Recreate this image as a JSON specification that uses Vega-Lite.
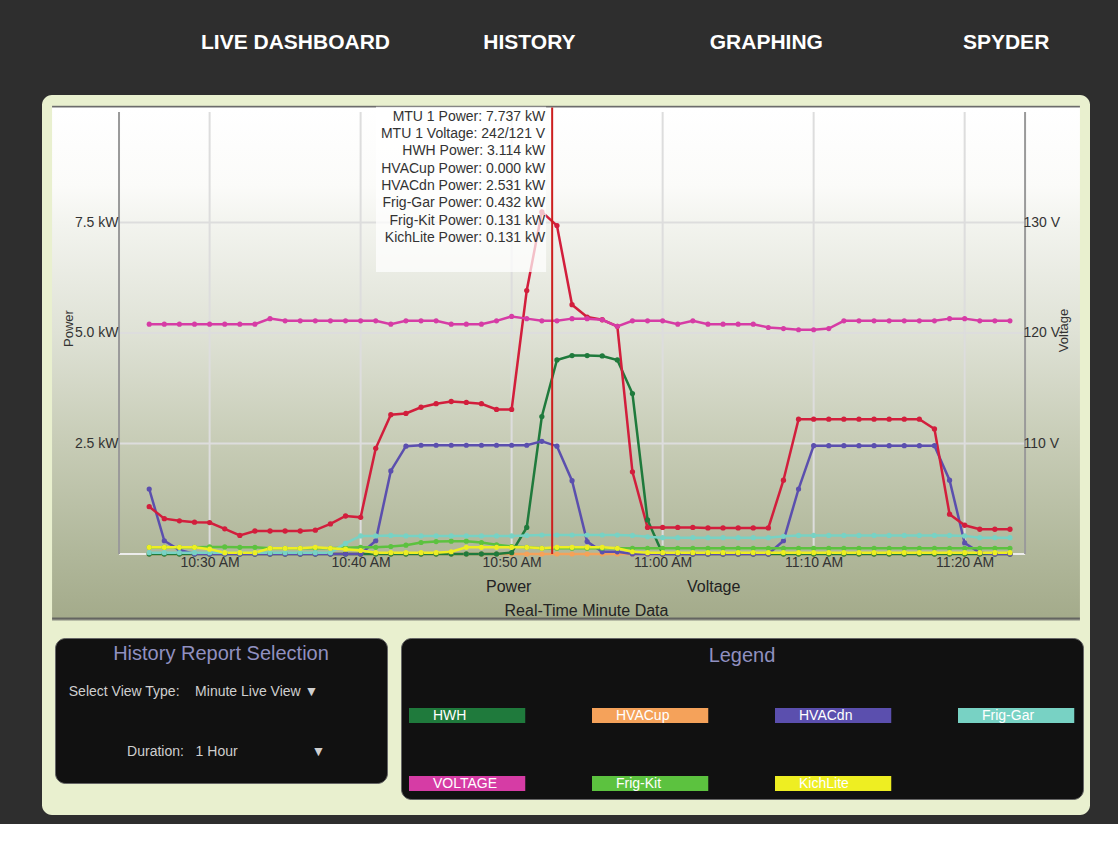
{
  "$schema": "https://vega.github.io/schema/vega-lite/v6.json",
  "width": 1048,
  "height": 535,
  "autosize": {"type": "none"},
  "padding": {"left": 42, "top": 95, "right": 28, "bottom": 194},
  "background": "#2e2e2e",
  "title": {
    "text": "LIVE DASHBOARD\u00a0\u00a0\u00a0\u00a0\u00a0\u00a0\u00a0\u00a0\u00a0\u00a0\u00a0\u00a0\u00a0\u00a0\u00a0\u00a0HISTORY\u00a0\u00a0\u00a0\u00a0\u00a0\u00a0\u00a0\u00a0\u00a0\u00a0\u00a0\u00a0\u00a0\u00a0\u00a0\u00a0\u00a0\u00a0\u00a0\u00a0\u00a0\u00a0\u00a0GRAPHING\u00a0\u00a0\u00a0\u00a0\u00a0\u00a0\u00a0\u00a0\u00a0\u00a0\u00a0\u00a0\u00a0\u00a0\u00a0\u00a0\u00a0\u00a0\u00a0\u00a0\u00a0\u00a0\u00a0\u00a0SPYDER",
    "anchor": "start", "frame": "group", "orient": "top", "dx": 159, "offset": 31,
    "baseline": "middle", "font": "Liberation Sans", "fontSize": 21, "fontWeight": "bold", "color": "#ffffff"
  },
  "config": {
    "font": "Liberation Sans",
    "view": {"stroke": null}
  },
  "resolve": {"scale": {"y": "independent"}, "axis": {"x": "independent"}},
  "datasets": {
    "one": [{"k": 1}],
    "hgrid": [{"v": 2.5}, {"v": 5}, {"v": 7.5}],
    "vgrid": [{"t": "2014-01-01T10:30"}, {"t": "2014-01-01T10:40"}, {"t": "2014-01-01T10:50"}, {"t": "2014-01-01T11:00"}, {"t": "2014-01-01T11:10"}, {"t": "2014-01-01T11:20"}],
    "cursor": [{"t": "2014-01-01T10:52:41", "lines": ["MTU 1 Power: 7.737 kW", "MTU 1 Voltage: 242/121 V", "HWH Power: 3.114 kW", "HVACup Power: 0.000 kW", "HVACdn Power: 2.531 kW", "Frig-Gar Power: 0.432 kW", "Frig-Kit Power: 0.131 kW", "KichLite Power: 0.131 kW"]}],
    "hist": [
      {"setting": "\u200b\u00a0\u00a0Select View Type:\u00a0\u00a0\u00a0\u00a0Minute Live View\u00a0\u25bc\u00a0\u00a0\u00a0\u00a0\u00a0\u00a0\u00a0\u00a0\u00a0\u00a0\u00a0\u00a0\u00a0\u00a0\u00a0\u00a0\u200b"},
      {"setting": "\u200b\u00a0\u00a0\u00a0\u00a0\u00a0\u00a0\u00a0\u00a0\u00a0\u00a0\u00a0\u00a0\u00a0\u00a0\u00a0\u00a0\u00a0Duration:\u00a0\u00a0\u00a01 Hour\u00a0\u00a0\u00a0\u00a0\u00a0\u00a0\u00a0\u00a0\u00a0\u00a0\u00a0\u00a0\u00a0\u00a0\u00a0\u00a0\u00a0\u00a0\u00a0\u25bc"}
    ],
    "volt": [
      {"t":"2014-01-01T10:26","s":"VOLTAGE","v":120.8},{"t":"2014-01-01T10:27","s":"VOLTAGE","v":120.8},{"t":"2014-01-01T10:28","s":"VOLTAGE","v":120.8},{"t":"2014-01-01T10:29","s":"VOLTAGE","v":120.8},
      {"t":"2014-01-01T10:30","s":"VOLTAGE","v":120.8},{"t":"2014-01-01T10:31","s":"VOLTAGE","v":120.8},{"t":"2014-01-01T10:32","s":"VOLTAGE","v":120.8},{"t":"2014-01-01T10:33","s":"VOLTAGE","v":120.8},
      {"t":"2014-01-01T10:34","s":"VOLTAGE","v":121.3},{"t":"2014-01-01T10:35","s":"VOLTAGE","v":121.1},{"t":"2014-01-01T10:36","s":"VOLTAGE","v":121.1},{"t":"2014-01-01T10:37","s":"VOLTAGE","v":121.1},
      {"t":"2014-01-01T10:38","s":"VOLTAGE","v":121.1},{"t":"2014-01-01T10:39","s":"VOLTAGE","v":121.1},{"t":"2014-01-01T10:40","s":"VOLTAGE","v":121.1},{"t":"2014-01-01T10:41","s":"VOLTAGE","v":121.1},
      {"t":"2014-01-01T10:42","s":"VOLTAGE","v":120.8},{"t":"2014-01-01T10:43","s":"VOLTAGE","v":121.1},{"t":"2014-01-01T10:44","s":"VOLTAGE","v":121.1},{"t":"2014-01-01T10:45","s":"VOLTAGE","v":121.1},
      {"t":"2014-01-01T10:46","s":"VOLTAGE","v":120.8},{"t":"2014-01-01T10:47","s":"VOLTAGE","v":120.8},{"t":"2014-01-01T10:48","s":"VOLTAGE","v":120.8},{"t":"2014-01-01T10:49","s":"VOLTAGE","v":121.1},
      {"t":"2014-01-01T10:50","s":"VOLTAGE","v":121.5},{"t":"2014-01-01T10:51","s":"VOLTAGE","v":121.3},{"t":"2014-01-01T10:52","s":"VOLTAGE","v":121.1},{"t":"2014-01-01T10:53","s":"VOLTAGE","v":121.1},
      {"t":"2014-01-01T10:54","s":"VOLTAGE","v":121.3},{"t":"2014-01-01T10:55","s":"VOLTAGE","v":121.3},{"t":"2014-01-01T10:56","s":"VOLTAGE","v":121.2},{"t":"2014-01-01T10:57","s":"VOLTAGE","v":120.6},
      {"t":"2014-01-01T10:58","s":"VOLTAGE","v":121.1},{"t":"2014-01-01T10:59","s":"VOLTAGE","v":121.1},{"t":"2014-01-01T11:00","s":"VOLTAGE","v":121.1},{"t":"2014-01-01T11:01","s":"VOLTAGE","v":120.8},
      {"t":"2014-01-01T11:02","s":"VOLTAGE","v":121.1},{"t":"2014-01-01T11:03","s":"VOLTAGE","v":120.8},{"t":"2014-01-01T11:04","s":"VOLTAGE","v":120.8},{"t":"2014-01-01T11:05","s":"VOLTAGE","v":120.8},
      {"t":"2014-01-01T11:06","s":"VOLTAGE","v":120.8},{"t":"2014-01-01T11:07","s":"VOLTAGE","v":120.5},{"t":"2014-01-01T11:08","s":"VOLTAGE","v":120.4},{"t":"2014-01-01T11:09","s":"VOLTAGE","v":120.3},
      {"t":"2014-01-01T11:10","s":"VOLTAGE","v":120.3},{"t":"2014-01-01T11:11","s":"VOLTAGE","v":120.4},{"t":"2014-01-01T11:12","s":"VOLTAGE","v":121.1},{"t":"2014-01-01T11:13","s":"VOLTAGE","v":121.1},
      {"t":"2014-01-01T11:14","s":"VOLTAGE","v":121.1},{"t":"2014-01-01T11:15","s":"VOLTAGE","v":121.1},{"t":"2014-01-01T11:16","s":"VOLTAGE","v":121.1},{"t":"2014-01-01T11:17","s":"VOLTAGE","v":121.1},
      {"t":"2014-01-01T11:18","s":"VOLTAGE","v":121.1},{"t":"2014-01-01T11:19","s":"VOLTAGE","v":121.3},{"t":"2014-01-01T11:20","s":"VOLTAGE","v":121.3},{"t":"2014-01-01T11:21","s":"VOLTAGE","v":121.1},
      {"t":"2014-01-01T11:22","s":"VOLTAGE","v":121.1},{"t":"2014-01-01T11:23","s":"VOLTAGE","v":121.1}
    ],
    "power": [
      {"t":"2014-01-01T10:26","s":"HVACup","v":0},{"t":"2014-01-01T10:27","s":"HVACup","v":0},{"t":"2014-01-01T10:28","s":"HVACup","v":0},{"t":"2014-01-01T10:29","s":"HVACup","v":0},{"t":"2014-01-01T10:30","s":"HVACup","v":0},{"t":"2014-01-01T10:31","s":"HVACup","v":0},{"t":"2014-01-01T10:32","s":"HVACup","v":0},{"t":"2014-01-01T10:33","s":"HVACup","v":0},{"t":"2014-01-01T10:34","s":"HVACup","v":0},{"t":"2014-01-01T10:35","s":"HVACup","v":0},
      {"t":"2014-01-01T10:36","s":"HVACup","v":0},{"t":"2014-01-01T10:37","s":"HVACup","v":0},{"t":"2014-01-01T10:38","s":"HVACup","v":0},{"t":"2014-01-01T10:39","s":"HVACup","v":0},{"t":"2014-01-01T10:40","s":"HVACup","v":0},{"t":"2014-01-01T10:41","s":"HVACup","v":0},{"t":"2014-01-01T10:42","s":"HVACup","v":0},{"t":"2014-01-01T10:43","s":"HVACup","v":0},{"t":"2014-01-01T10:44","s":"HVACup","v":0},{"t":"2014-01-01T10:45","s":"HVACup","v":0},
      {"t":"2014-01-01T10:46","s":"HVACup","v":0},{"t":"2014-01-01T10:47","s":"HVACup","v":0},{"t":"2014-01-01T10:48","s":"HVACup","v":0},{"t":"2014-01-01T10:49","s":"HVACup","v":0},{"t":"2014-01-01T10:50","s":"HVACup","v":0},{"t":"2014-01-01T10:51","s":"HVACup","v":0},{"t":"2014-01-01T10:52","s":"HVACup","v":0},{"t":"2014-01-01T10:53","s":"HVACup","v":0},{"t":"2014-01-01T10:54","s":"HVACup","v":0},{"t":"2014-01-01T10:55","s":"HVACup","v":0},
      {"t":"2014-01-01T10:56","s":"HVACup","v":0},{"t":"2014-01-01T10:57","s":"HVACup","v":0},{"t":"2014-01-01T10:58","s":"HVACup","v":0},{"t":"2014-01-01T10:59","s":"HVACup","v":0},{"t":"2014-01-01T11:00","s":"HVACup","v":0},{"t":"2014-01-01T11:01","s":"HVACup","v":0},{"t":"2014-01-01T11:02","s":"HVACup","v":0},{"t":"2014-01-01T11:03","s":"HVACup","v":0},{"t":"2014-01-01T11:04","s":"HVACup","v":0},{"t":"2014-01-01T11:05","s":"HVACup","v":0},
      {"t":"2014-01-01T11:06","s":"HVACup","v":0},{"t":"2014-01-01T11:07","s":"HVACup","v":0},{"t":"2014-01-01T11:08","s":"HVACup","v":0},{"t":"2014-01-01T11:09","s":"HVACup","v":0},{"t":"2014-01-01T11:10","s":"HVACup","v":0},{"t":"2014-01-01T11:11","s":"HVACup","v":0},{"t":"2014-01-01T11:12","s":"HVACup","v":0},{"t":"2014-01-01T11:13","s":"HVACup","v":0},{"t":"2014-01-01T11:14","s":"HVACup","v":0},{"t":"2014-01-01T11:15","s":"HVACup","v":0},
      {"t":"2014-01-01T11:16","s":"HVACup","v":0},{"t":"2014-01-01T11:17","s":"HVACup","v":0},{"t":"2014-01-01T11:18","s":"HVACup","v":0},{"t":"2014-01-01T11:19","s":"HVACup","v":0},{"t":"2014-01-01T11:20","s":"HVACup","v":0},{"t":"2014-01-01T11:21","s":"HVACup","v":0},{"t":"2014-01-01T11:22","s":"HVACup","v":0},{"t":"2014-01-01T11:23","s":"HVACup","v":0},

      {"t":"2014-01-01T10:26","s":"HWH","v":0},{"t":"2014-01-01T10:27","s":"HWH","v":0},{"t":"2014-01-01T10:28","s":"HWH","v":0},{"t":"2014-01-01T10:29","s":"HWH","v":0},{"t":"2014-01-01T10:30","s":"HWH","v":0},{"t":"2014-01-01T10:31","s":"HWH","v":0},{"t":"2014-01-01T10:32","s":"HWH","v":0},{"t":"2014-01-01T10:33","s":"HWH","v":0},{"t":"2014-01-01T10:34","s":"HWH","v":0},{"t":"2014-01-01T10:35","s":"HWH","v":0},
      {"t":"2014-01-01T10:36","s":"HWH","v":0},{"t":"2014-01-01T10:37","s":"HWH","v":0},{"t":"2014-01-01T10:38","s":"HWH","v":0},{"t":"2014-01-01T10:39","s":"HWH","v":0},{"t":"2014-01-01T10:40","s":"HWH","v":0},{"t":"2014-01-01T10:41","s":"HWH","v":0},{"t":"2014-01-01T10:42","s":"HWH","v":0},{"t":"2014-01-01T10:43","s":"HWH","v":0},{"t":"2014-01-01T10:44","s":"HWH","v":0},{"t":"2014-01-01T10:45","s":"HWH","v":0},
      {"t":"2014-01-01T10:46","s":"HWH","v":0},{"t":"2014-01-01T10:47","s":"HWH","v":0},{"t":"2014-01-01T10:48","s":"HWH","v":0},{"t":"2014-01-01T10:49","s":"HWH","v":0},{"t":"2014-01-01T10:50","s":"HWH","v":0.03},{"t":"2014-01-01T10:51","s":"HWH","v":0.6},{"t":"2014-01-01T10:52","s":"HWH","v":3.11},{"t":"2014-01-01T10:53","s":"HWH","v":4.39},{"t":"2014-01-01T10:54","s":"HWH","v":4.49},{"t":"2014-01-01T10:55","s":"HWH","v":4.49},
      {"t":"2014-01-01T10:56","s":"HWH","v":4.48},{"t":"2014-01-01T10:57","s":"HWH","v":4.39},{"t":"2014-01-01T10:58","s":"HWH","v":3.63},{"t":"2014-01-01T10:59","s":"HWH","v":0.77},{"t":"2014-01-01T11:00","s":"HWH","v":0},{"t":"2014-01-01T11:01","s":"HWH","v":0},{"t":"2014-01-01T11:02","s":"HWH","v":0},{"t":"2014-01-01T11:03","s":"HWH","v":0},{"t":"2014-01-01T11:04","s":"HWH","v":0},{"t":"2014-01-01T11:05","s":"HWH","v":0},
      {"t":"2014-01-01T11:06","s":"HWH","v":0},{"t":"2014-01-01T11:07","s":"HWH","v":0},{"t":"2014-01-01T11:08","s":"HWH","v":0},{"t":"2014-01-01T11:09","s":"HWH","v":0},{"t":"2014-01-01T11:10","s":"HWH","v":0},{"t":"2014-01-01T11:11","s":"HWH","v":0},{"t":"2014-01-01T11:12","s":"HWH","v":0},{"t":"2014-01-01T11:13","s":"HWH","v":0},{"t":"2014-01-01T11:14","s":"HWH","v":0},{"t":"2014-01-01T11:15","s":"HWH","v":0},
      {"t":"2014-01-01T11:16","s":"HWH","v":0},{"t":"2014-01-01T11:17","s":"HWH","v":0},{"t":"2014-01-01T11:18","s":"HWH","v":0},{"t":"2014-01-01T11:19","s":"HWH","v":0},{"t":"2014-01-01T11:20","s":"HWH","v":0},{"t":"2014-01-01T11:21","s":"HWH","v":0},{"t":"2014-01-01T11:22","s":"HWH","v":0},{"t":"2014-01-01T11:23","s":"HWH","v":0},

      {"t":"2014-01-01T10:26","s":"HVACdn","v":1.47},{"t":"2014-01-01T10:27","s":"HVACdn","v":0.3},{"t":"2014-01-01T10:28","s":"HVACdn","v":0.09},{"t":"2014-01-01T10:29","s":"HVACdn","v":0},{"t":"2014-01-01T10:30","s":"HVACdn","v":0},{"t":"2014-01-01T10:31","s":"HVACdn","v":0},{"t":"2014-01-01T10:32","s":"HVACdn","v":0},{"t":"2014-01-01T10:33","s":"HVACdn","v":0},{"t":"2014-01-01T10:34","s":"HVACdn","v":0},{"t":"2014-01-01T10:35","s":"HVACdn","v":0},
      {"t":"2014-01-01T10:36","s":"HVACdn","v":0},{"t":"2014-01-01T10:37","s":"HVACdn","v":0},{"t":"2014-01-01T10:38","s":"HVACdn","v":0},{"t":"2014-01-01T10:39","s":"HVACdn","v":0},{"t":"2014-01-01T10:40","s":"HVACdn","v":0},{"t":"2014-01-01T10:41","s":"HVACdn","v":0.3},{"t":"2014-01-01T10:42","s":"HVACdn","v":1.88},{"t":"2014-01-01T10:43","s":"HVACdn","v":2.44},{"t":"2014-01-01T10:44","s":"HVACdn","v":2.46},{"t":"2014-01-01T10:45","s":"HVACdn","v":2.46},
      {"t":"2014-01-01T10:46","s":"HVACdn","v":2.46},{"t":"2014-01-01T10:47","s":"HVACdn","v":2.46},{"t":"2014-01-01T10:48","s":"HVACdn","v":2.46},{"t":"2014-01-01T10:49","s":"HVACdn","v":2.46},{"t":"2014-01-01T10:50","s":"HVACdn","v":2.46},{"t":"2014-01-01T10:51","s":"HVACdn","v":2.46},{"t":"2014-01-01T10:52","s":"HVACdn","v":2.55},{"t":"2014-01-01T10:53","s":"HVACdn","v":2.44},{"t":"2014-01-01T10:54","s":"HVACdn","v":1.66},{"t":"2014-01-01T10:55","s":"HVACdn","v":0.28},
      {"t":"2014-01-01T10:56","s":"HVACdn","v":0.05},{"t":"2014-01-01T10:57","s":"HVACdn","v":0.05},{"t":"2014-01-01T10:58","s":"HVACdn","v":0},{"t":"2014-01-01T10:59","s":"HVACdn","v":0},{"t":"2014-01-01T11:00","s":"HVACdn","v":0},{"t":"2014-01-01T11:01","s":"HVACdn","v":0},{"t":"2014-01-01T11:02","s":"HVACdn","v":0},{"t":"2014-01-01T11:03","s":"HVACdn","v":0},{"t":"2014-01-01T11:04","s":"HVACdn","v":0},{"t":"2014-01-01T11:05","s":"HVACdn","v":0},
      {"t":"2014-01-01T11:06","s":"HVACdn","v":0},{"t":"2014-01-01T11:07","s":"HVACdn","v":0},{"t":"2014-01-01T11:08","s":"HVACdn","v":0.3},{"t":"2014-01-01T11:09","s":"HVACdn","v":1.47},{"t":"2014-01-01T11:10","s":"HVACdn","v":2.45},{"t":"2014-01-01T11:11","s":"HVACdn","v":2.45},{"t":"2014-01-01T11:12","s":"HVACdn","v":2.45},{"t":"2014-01-01T11:13","s":"HVACdn","v":2.45},{"t":"2014-01-01T11:14","s":"HVACdn","v":2.45},{"t":"2014-01-01T11:15","s":"HVACdn","v":2.45},
      {"t":"2014-01-01T11:16","s":"HVACdn","v":2.45},{"t":"2014-01-01T11:17","s":"HVACdn","v":2.45},{"t":"2014-01-01T11:18","s":"HVACdn","v":2.45},{"t":"2014-01-01T11:19","s":"HVACdn","v":1.67},{"t":"2014-01-01T11:20","s":"HVACdn","v":0.25},{"t":"2014-01-01T11:21","s":"HVACdn","v":0.03},{"t":"2014-01-01T11:22","s":"HVACdn","v":0},{"t":"2014-01-01T11:23","s":"HVACdn","v":0},

      {"t":"2014-01-01T10:26","s":"Frig-Kit","v":0.15},{"t":"2014-01-01T10:27","s":"Frig-Kit","v":0.15},{"t":"2014-01-01T10:28","s":"Frig-Kit","v":0.15},{"t":"2014-01-01T10:29","s":"Frig-Kit","v":0.15},{"t":"2014-01-01T10:30","s":"Frig-Kit","v":0.16},{"t":"2014-01-01T10:31","s":"Frig-Kit","v":0.16},{"t":"2014-01-01T10:32","s":"Frig-Kit","v":0.15},{"t":"2014-01-01T10:33","s":"Frig-Kit","v":0.15},{"t":"2014-01-01T10:34","s":"Frig-Kit","v":0.13},{"t":"2014-01-01T10:35","s":"Frig-Kit","v":0.13},
      {"t":"2014-01-01T10:36","s":"Frig-Kit","v":0.13},{"t":"2014-01-01T10:37","s":"Frig-Kit","v":0.13},{"t":"2014-01-01T10:38","s":"Frig-Kit","v":0.13},{"t":"2014-01-01T10:39","s":"Frig-Kit","v":0.14},{"t":"2014-01-01T10:40","s":"Frig-Kit","v":0.15},{"t":"2014-01-01T10:41","s":"Frig-Kit","v":0.15},{"t":"2014-01-01T10:42","s":"Frig-Kit","v":0.17},{"t":"2014-01-01T10:43","s":"Frig-Kit","v":0.2},{"t":"2014-01-01T10:44","s":"Frig-Kit","v":0.26},{"t":"2014-01-01T10:45","s":"Frig-Kit","v":0.28},
      {"t":"2014-01-01T10:46","s":"Frig-Kit","v":0.29},{"t":"2014-01-01T10:47","s":"Frig-Kit","v":0.29},{"t":"2014-01-01T10:48","s":"Frig-Kit","v":0.26},{"t":"2014-01-01T10:49","s":"Frig-Kit","v":0.21},{"t":"2014-01-01T10:50","s":"Frig-Kit","v":0.17},{"t":"2014-01-01T10:51","s":"Frig-Kit","v":0.15},{"t":"2014-01-01T10:52","s":"Frig-Kit","v":0.13},{"t":"2014-01-01T10:53","s":"Frig-Kit","v":0.13},{"t":"2014-01-01T10:54","s":"Frig-Kit","v":0.13},{"t":"2014-01-01T10:55","s":"Frig-Kit","v":0.13},
      {"t":"2014-01-01T10:56","s":"Frig-Kit","v":0.13},{"t":"2014-01-01T10:57","s":"Frig-Kit","v":0.13},{"t":"2014-01-01T10:58","s":"Frig-Kit","v":0.13},{"t":"2014-01-01T10:59","s":"Frig-Kit","v":0.13},{"t":"2014-01-01T11:00","s":"Frig-Kit","v":0.13},{"t":"2014-01-01T11:01","s":"Frig-Kit","v":0.13},{"t":"2014-01-01T11:02","s":"Frig-Kit","v":0.13},{"t":"2014-01-01T11:03","s":"Frig-Kit","v":0.13},{"t":"2014-01-01T11:04","s":"Frig-Kit","v":0.13},{"t":"2014-01-01T11:05","s":"Frig-Kit","v":0.13},
      {"t":"2014-01-01T11:06","s":"Frig-Kit","v":0.13},{"t":"2014-01-01T11:07","s":"Frig-Kit","v":0.13},{"t":"2014-01-01T11:08","s":"Frig-Kit","v":0.13},{"t":"2014-01-01T11:09","s":"Frig-Kit","v":0.13},{"t":"2014-01-01T11:10","s":"Frig-Kit","v":0.13},{"t":"2014-01-01T11:11","s":"Frig-Kit","v":0.13},{"t":"2014-01-01T11:12","s":"Frig-Kit","v":0.13},{"t":"2014-01-01T11:13","s":"Frig-Kit","v":0.13},{"t":"2014-01-01T11:14","s":"Frig-Kit","v":0.13},{"t":"2014-01-01T11:15","s":"Frig-Kit","v":0.13},
      {"t":"2014-01-01T11:16","s":"Frig-Kit","v":0.13},{"t":"2014-01-01T11:17","s":"Frig-Kit","v":0.13},{"t":"2014-01-01T11:18","s":"Frig-Kit","v":0.13},{"t":"2014-01-01T11:19","s":"Frig-Kit","v":0.13},{"t":"2014-01-01T11:20","s":"Frig-Kit","v":0.13},{"t":"2014-01-01T11:21","s":"Frig-Kit","v":0.13},{"t":"2014-01-01T11:22","s":"Frig-Kit","v":0.13},{"t":"2014-01-01T11:23","s":"Frig-Kit","v":0.13},

      {"t":"2014-01-01T10:26","s":"Frig-Gar","v":0.03},{"t":"2014-01-01T10:27","s":"Frig-Gar","v":0.03},{"t":"2014-01-01T10:28","s":"Frig-Gar","v":0.03},{"t":"2014-01-01T10:29","s":"Frig-Gar","v":0.03},{"t":"2014-01-01T10:30","s":"Frig-Gar","v":0.03},{"t":"2014-01-01T10:31","s":"Frig-Gar","v":0.03},{"t":"2014-01-01T10:32","s":"Frig-Gar","v":0.03},{"t":"2014-01-01T10:33","s":"Frig-Gar","v":0.03},{"t":"2014-01-01T10:34","s":"Frig-Gar","v":0.03},{"t":"2014-01-01T10:35","s":"Frig-Gar","v":0.03},
      {"t":"2014-01-01T10:36","s":"Frig-Gar","v":0.03},{"t":"2014-01-01T10:37","s":"Frig-Gar","v":0.03},{"t":"2014-01-01T10:38","s":"Frig-Gar","v":0.03},{"t":"2014-01-01T10:39","s":"Frig-Gar","v":0.24},{"t":"2014-01-01T10:40","s":"Frig-Gar","v":0.41},{"t":"2014-01-01T10:41","s":"Frig-Gar","v":0.41},{"t":"2014-01-01T10:42","s":"Frig-Gar","v":0.42},{"t":"2014-01-01T10:43","s":"Frig-Gar","v":0.41},{"t":"2014-01-01T10:44","s":"Frig-Gar","v":0.41},{"t":"2014-01-01T10:45","s":"Frig-Gar","v":0.41},
      {"t":"2014-01-01T10:46","s":"Frig-Gar","v":0.41},{"t":"2014-01-01T10:47","s":"Frig-Gar","v":0.41},{"t":"2014-01-01T10:48","s":"Frig-Gar","v":0.41},{"t":"2014-01-01T10:49","s":"Frig-Gar","v":0.41},{"t":"2014-01-01T10:50","s":"Frig-Gar","v":0.41},{"t":"2014-01-01T10:51","s":"Frig-Gar","v":0.42},{"t":"2014-01-01T10:52","s":"Frig-Gar","v":0.43},{"t":"2014-01-01T10:53","s":"Frig-Gar","v":0.43},{"t":"2014-01-01T10:54","s":"Frig-Gar","v":0.43},{"t":"2014-01-01T10:55","s":"Frig-Gar","v":0.43},
      {"t":"2014-01-01T10:56","s":"Frig-Gar","v":0.43},{"t":"2014-01-01T10:57","s":"Frig-Gar","v":0.43},{"t":"2014-01-01T10:58","s":"Frig-Gar","v":0.42},{"t":"2014-01-01T10:59","s":"Frig-Gar","v":0.39},{"t":"2014-01-01T11:00","s":"Frig-Gar","v":0.37},{"t":"2014-01-01T11:01","s":"Frig-Gar","v":0.37},{"t":"2014-01-01T11:02","s":"Frig-Gar","v":0.37},{"t":"2014-01-01T11:03","s":"Frig-Gar","v":0.37},{"t":"2014-01-01T11:04","s":"Frig-Gar","v":0.37},{"t":"2014-01-01T11:05","s":"Frig-Gar","v":0.37},
      {"t":"2014-01-01T11:06","s":"Frig-Gar","v":0.37},{"t":"2014-01-01T11:07","s":"Frig-Gar","v":0.37},{"t":"2014-01-01T11:08","s":"Frig-Gar","v":0.4},{"t":"2014-01-01T11:09","s":"Frig-Gar","v":0.42},{"t":"2014-01-01T11:10","s":"Frig-Gar","v":0.42},{"t":"2014-01-01T11:11","s":"Frig-Gar","v":0.42},{"t":"2014-01-01T11:12","s":"Frig-Gar","v":0.42},{"t":"2014-01-01T11:13","s":"Frig-Gar","v":0.42},{"t":"2014-01-01T11:14","s":"Frig-Gar","v":0.42},{"t":"2014-01-01T11:15","s":"Frig-Gar","v":0.42},
      {"t":"2014-01-01T11:16","s":"Frig-Gar","v":0.42},{"t":"2014-01-01T11:17","s":"Frig-Gar","v":0.42},{"t":"2014-01-01T11:18","s":"Frig-Gar","v":0.42},{"t":"2014-01-01T11:19","s":"Frig-Gar","v":0.42},{"t":"2014-01-01T11:20","s":"Frig-Gar","v":0.41},{"t":"2014-01-01T11:21","s":"Frig-Gar","v":0.37},{"t":"2014-01-01T11:22","s":"Frig-Gar","v":0.37},{"t":"2014-01-01T11:23","s":"Frig-Gar","v":0.37},

      {"t":"2014-01-01T10:26","s":"KichLite","v":0.15},{"t":"2014-01-01T10:27","s":"KichLite","v":0.15},{"t":"2014-01-01T10:28","s":"KichLite","v":0.15},{"t":"2014-01-01T10:29","s":"KichLite","v":0.15},{"t":"2014-01-01T10:30","s":"KichLite","v":0.11},{"t":"2014-01-01T10:31","s":"KichLite","v":0.03},{"t":"2014-01-01T10:32","s":"KichLite","v":0.03},{"t":"2014-01-01T10:33","s":"KichLite","v":0.03},{"t":"2014-01-01T10:34","s":"KichLite","v":0.13},{"t":"2014-01-01T10:35","s":"KichLite","v":0.13},
      {"t":"2014-01-01T10:36","s":"KichLite","v":0.13},{"t":"2014-01-01T10:37","s":"KichLite","v":0.15},{"t":"2014-01-01T10:38","s":"KichLite","v":0.13},{"t":"2014-01-01T10:39","s":"KichLite","v":0.11},{"t":"2014-01-01T10:40","s":"KichLite","v":0.08},{"t":"2014-01-01T10:41","s":"KichLite","v":0.03},{"t":"2014-01-01T10:42","s":"KichLite","v":0.03},{"t":"2014-01-01T10:43","s":"KichLite","v":0.03},{"t":"2014-01-01T10:44","s":"KichLite","v":0.03},{"t":"2014-01-01T10:45","s":"KichLite","v":0.03},
      {"t":"2014-01-01T10:46","s":"KichLite","v":0.05},{"t":"2014-01-01T10:47","s":"KichLite","v":0.15},{"t":"2014-01-01T10:48","s":"KichLite","v":0.15},{"t":"2014-01-01T10:49","s":"KichLite","v":0.15},{"t":"2014-01-01T10:50","s":"KichLite","v":0.15},{"t":"2014-01-01T10:51","s":"KichLite","v":0.15},{"t":"2014-01-01T10:52","s":"KichLite","v":0.13},{"t":"2014-01-01T10:53","s":"KichLite","v":0.15},{"t":"2014-01-01T10:54","s":"KichLite","v":0.15},{"t":"2014-01-01T10:55","s":"KichLite","v":0.15},
      {"t":"2014-01-01T10:56","s":"KichLite","v":0.15},{"t":"2014-01-01T10:57","s":"KichLite","v":0.13},{"t":"2014-01-01T10:58","s":"KichLite","v":0.05},{"t":"2014-01-01T10:59","s":"KichLite","v":0.03},{"t":"2014-01-01T11:00","s":"KichLite","v":0.03},{"t":"2014-01-01T11:01","s":"KichLite","v":0.03},{"t":"2014-01-01T11:02","s":"KichLite","v":0.03},{"t":"2014-01-01T11:03","s":"KichLite","v":0.03},{"t":"2014-01-01T11:04","s":"KichLite","v":0.03},{"t":"2014-01-01T11:05","s":"KichLite","v":0.03},
      {"t":"2014-01-01T11:06","s":"KichLite","v":0.03},{"t":"2014-01-01T11:07","s":"KichLite","v":0.03},{"t":"2014-01-01T11:08","s":"KichLite","v":0.03},{"t":"2014-01-01T11:09","s":"KichLite","v":0.03},{"t":"2014-01-01T11:10","s":"KichLite","v":0.03},{"t":"2014-01-01T11:11","s":"KichLite","v":0.03},{"t":"2014-01-01T11:12","s":"KichLite","v":0.03},{"t":"2014-01-01T11:13","s":"KichLite","v":0.03},{"t":"2014-01-01T11:14","s":"KichLite","v":0.03},{"t":"2014-01-01T11:15","s":"KichLite","v":0.03},
      {"t":"2014-01-01T11:16","s":"KichLite","v":0.03},{"t":"2014-01-01T11:17","s":"KichLite","v":0.03},{"t":"2014-01-01T11:18","s":"KichLite","v":0.03},{"t":"2014-01-01T11:19","s":"KichLite","v":0.03},{"t":"2014-01-01T11:20","s":"KichLite","v":0.03},{"t":"2014-01-01T11:21","s":"KichLite","v":0.03},{"t":"2014-01-01T11:22","s":"KichLite","v":0.03},{"t":"2014-01-01T11:23","s":"KichLite","v":0.03},

      {"t":"2014-01-01T10:26","s":"MTU 1","v":1.07},{"t":"2014-01-01T10:27","s":"MTU 1","v":0.8},{"t":"2014-01-01T10:28","s":"MTU 1","v":0.75},{"t":"2014-01-01T10:29","s":"MTU 1","v":0.72},{"t":"2014-01-01T10:30","s":"MTU 1","v":0.71},{"t":"2014-01-01T10:31","s":"MTU 1","v":0.57},{"t":"2014-01-01T10:32","s":"MTU 1","v":0.42},{"t":"2014-01-01T10:33","s":"MTU 1","v":0.52},{"t":"2014-01-01T10:34","s":"MTU 1","v":0.52},{"t":"2014-01-01T10:35","s":"MTU 1","v":0.52},
      {"t":"2014-01-01T10:36","s":"MTU 1","v":0.52},{"t":"2014-01-01T10:37","s":"MTU 1","v":0.54},{"t":"2014-01-01T10:38","s":"MTU 1","v":0.68},{"t":"2014-01-01T10:39","s":"MTU 1","v":0.86},{"t":"2014-01-01T10:40","s":"MTU 1","v":0.83},{"t":"2014-01-01T10:41","s":"MTU 1","v":2.39},{"t":"2014-01-01T10:42","s":"MTU 1","v":3.15},{"t":"2014-01-01T10:43","s":"MTU 1","v":3.18},{"t":"2014-01-01T10:44","s":"MTU 1","v":3.32},{"t":"2014-01-01T10:45","s":"MTU 1","v":3.4},
      {"t":"2014-01-01T10:46","s":"MTU 1","v":3.45},{"t":"2014-01-01T10:47","s":"MTU 1","v":3.43},{"t":"2014-01-01T10:48","s":"MTU 1","v":3.4},{"t":"2014-01-01T10:49","s":"MTU 1","v":3.27},{"t":"2014-01-01T10:50","s":"MTU 1","v":3.27},{"t":"2014-01-01T10:51","s":"MTU 1","v":5.96},{"t":"2014-01-01T10:52","s":"MTU 1","v":7.74},{"t":"2014-01-01T10:53","s":"MTU 1","v":7.43},{"t":"2014-01-01T10:54","s":"MTU 1","v":5.64},{"t":"2014-01-01T10:55","s":"MTU 1","v":5.36},
      {"t":"2014-01-01T10:56","s":"MTU 1","v":5.3},{"t":"2014-01-01T10:57","s":"MTU 1","v":5.15},{"t":"2014-01-01T10:58","s":"MTU 1","v":1.86},{"t":"2014-01-01T10:59","s":"MTU 1","v":0.6},{"t":"2014-01-01T11:00","s":"MTU 1","v":0.6},{"t":"2014-01-01T11:01","s":"MTU 1","v":0.6},{"t":"2014-01-01T11:02","s":"MTU 1","v":0.6},{"t":"2014-01-01T11:03","s":"MTU 1","v":0.59},{"t":"2014-01-01T11:04","s":"MTU 1","v":0.59},{"t":"2014-01-01T11:05","s":"MTU 1","v":0.59},
      {"t":"2014-01-01T11:06","s":"MTU 1","v":0.59},{"t":"2014-01-01T11:07","s":"MTU 1","v":0.59},{"t":"2014-01-01T11:08","s":"MTU 1","v":1.67},{"t":"2014-01-01T11:09","s":"MTU 1","v":3.05},{"t":"2014-01-01T11:10","s":"MTU 1","v":3.05},{"t":"2014-01-01T11:11","s":"MTU 1","v":3.05},{"t":"2014-01-01T11:12","s":"MTU 1","v":3.05},{"t":"2014-01-01T11:13","s":"MTU 1","v":3.05},{"t":"2014-01-01T11:14","s":"MTU 1","v":3.05},{"t":"2014-01-01T11:15","s":"MTU 1","v":3.05},
      {"t":"2014-01-01T11:16","s":"MTU 1","v":3.05},{"t":"2014-01-01T11:17","s":"MTU 1","v":3.05},{"t":"2014-01-01T11:18","s":"MTU 1","v":2.83},{"t":"2014-01-01T11:19","s":"MTU 1","v":0.9},{"t":"2014-01-01T11:20","s":"MTU 1","v":0.65},{"t":"2014-01-01T11:21","s":"MTU 1","v":0.56},{"t":"2014-01-01T11:22","s":"MTU 1","v":0.56},{"t":"2014-01-01T11:23","s":"MTU 1","v":0.56}
    ]
  },
  "layer": [
    {
      "data": {"name": "one"},
      "mark": {
        "type": "rect", "cornerRadius": 10,
        "color": {
          "gradient": "linear", "x1": 0, "y1": 0, "x2": 0, "y2": 1,
          "stops": [
            {"offset": 0, "color": "#e9f0cf"},
            {"offset": 0.0142, "color": "#e9f0cf"},
            {"offset": 0.016, "color": "#6a6a6a"},
            {"offset": 0.0186, "color": "#ffffff"},
            {"offset": 0.126, "color": "#fbfbf9"},
            {"offset": 0.176, "color": "#f3f4ef"},
            {"offset": 0.329, "color": "#dfe2d6"},
            {"offset": 0.483, "color": "#c7ccb6"},
            {"offset": 0.6375, "color": "#b0b79a"},
            {"offset": 0.7244, "color": "#a4ab8b"},
            {"offset": 0.7275, "color": "#5a5a5a"},
            {"offset": 0.7311, "color": "#e9f0cf"},
            {"offset": 1, "color": "#e9f0cf"}
          ]
        }
      },
      "encoding": {
        "x": {"datum": {"year": 2014, "month": 1, "date": 1, "hours": 10, "minutes": 18, "seconds": 54}, "type": "temporal", "scale": {"domain": [{"year": 2014, "month": 1, "date": 1, "hours": 10, "minutes": 18, "seconds": 54}, {"year": 2014, "month": 1, "date": 1, "hours": 11, "minutes": 28, "seconds": 18}], "nice": false}, "axis": null},
        "x2": {"datum": {"year": 2014, "month": 1, "date": 1, "hours": 11, "minutes": 28, "seconds": 18}},
        "y": {"datum": -5.905, "type": "quantitative", "scale": {"domain": [-1.7195, 10.3846], "nice": false, "zero": false}, "axis": null},
        "y2": {"datum": 10.3846}
      }
    },
    {
      "data": {"name": "one"},
      "mark": {"type": "rect", "color": "#e9f0cf"},
      "encoding": {
        "x": {"datum": {"year": 2014, "month": 1, "date": 1, "hours": 10, "minutes": 18, "seconds": 54}, "type": "temporal", "scale": {"domain": [{"year": 2014, "month": 1, "date": 1, "hours": 10, "minutes": 18, "seconds": 54}, {"year": 2014, "month": 1, "date": 1, "hours": 11, "minutes": 28, "seconds": 18}], "nice": false}, "axis": null},
        "x2": {"datum": {"year": 2014, "month": 1, "date": 1, "hours": 10, "minutes": 19, "seconds": 34}},
        "y": {"datum": -5.7, "type": "quantitative", "scale": {"domain": [-1.7195, 10.3846], "nice": false, "zero": false}, "axis": null},
        "y2": {"datum": 10.18}
      }
    },
    {
      "data": {"name": "one"},
      "mark": {"type": "rect", "color": "#e9f0cf"},
      "encoding": {
        "x": {"datum": {"year": 2014, "month": 1, "date": 1, "hours": 11, "minutes": 27, "seconds": 38}, "type": "temporal", "scale": {"domain": [{"year": 2014, "month": 1, "date": 1, "hours": 10, "minutes": 18, "seconds": 54}, {"year": 2014, "month": 1, "date": 1, "hours": 11, "minutes": 28, "seconds": 18}], "nice": false}, "axis": null},
        "x2": {"datum": {"year": 2014, "month": 1, "date": 1, "hours": 11, "minutes": 28, "seconds": 18}},
        "y": {"datum": -5.7, "type": "quantitative", "scale": {"domain": [-1.7195, 10.3846], "nice": false, "zero": false}, "axis": null},
        "y2": {"datum": 10.18}
      }
    },
    {
      "data": {"name": "hgrid"},
      "mark": {"type": "rule", "color": "#dddddd", "strokeWidth": 2},
      "encoding": {
        "y": {"field": "v", "type": "quantitative", "scale": {"domain": [-1.7195, 10.3846], "nice": false, "zero": false}, "axis": null},
        "x": {"datum": {"year": 2014, "month": 1, "date": 1, "hours": 10, "minutes": 24}, "type": "temporal", "scale": {"domain": [{"year": 2014, "month": 1, "date": 1, "hours": 10, "minutes": 18, "seconds": 54}, {"year": 2014, "month": 1, "date": 1, "hours": 11, "minutes": 28, "seconds": 18}], "nice": false}, "axis": null},
        "x2": {"datum": {"year": 2014, "month": 1, "date": 1, "hours": 11, "minutes": 24}}
      }
    },
    {
      "data": {"name": "vgrid"},
      "mark": {"type": "rule", "color": "#dddddd", "strokeWidth": 2},
      "encoding": {
        "x": {"field": "t", "type": "temporal", "scale": {"domain": [{"year": 2014, "month": 1, "date": 1, "hours": 10, "minutes": 18, "seconds": 54}, {"year": 2014, "month": 1, "date": 1, "hours": 11, "minutes": 28, "seconds": 18}], "nice": false}, "axis": null},
        "y": {"datum": 0, "type": "quantitative", "scale": {"domain": [-1.7195, 10.3846], "nice": false, "zero": false}, "axis": null},
        "y2": {"datum": 10}
      }
    },
    {
      "data": {"name": "one"},
      "mark": {"type": "rule", "color": "#ececec", "strokeWidth": 2},
      "encoding": {
        "y": {"datum": 0, "type": "quantitative", "scale": {"domain": [-1.7195, 10.3846], "nice": false, "zero": false}, "axis": null},
        "x": {"datum": {"year": 2014, "month": 1, "date": 1, "hours": 10, "minutes": 24}, "type": "temporal", "scale": {"domain": [{"year": 2014, "month": 1, "date": 1, "hours": 10, "minutes": 18, "seconds": 54}, {"year": 2014, "month": 1, "date": 1, "hours": 11, "minutes": 28, "seconds": 18}], "nice": false}, "axis": null},
        "x2": {"datum": {"year": 2014, "month": 1, "date": 1, "hours": 11, "minutes": 24}}
      }
    },
    {
      "data": {"name": "one"},
      "mark": {"type": "rule", "color": "#9a9a9a", "strokeWidth": 2},
      "encoding": {
        "x": {"datum": {"year": 2014, "month": 1, "date": 1, "hours": 10, "minutes": 24}, "type": "temporal", "scale": {"domain": [{"year": 2014, "month": 1, "date": 1, "hours": 10, "minutes": 18, "seconds": 54}, {"year": 2014, "month": 1, "date": 1, "hours": 11, "minutes": 28, "seconds": 18}], "nice": false}, "axis": null},
        "y": {"datum": 0, "type": "quantitative", "scale": {"domain": [-1.7195, 10.3846], "nice": false, "zero": false}, "axis": null},
        "y2": {"datum": 10}
      }
    },
    {
      "data": {"name": "one"},
      "mark": {"type": "rule", "color": "#9a9a9a", "strokeWidth": 2},
      "encoding": {
        "x": {"datum": {"year": 2014, "month": 1, "date": 1, "hours": 11, "minutes": 24}, "type": "temporal", "scale": {"domain": [{"year": 2014, "month": 1, "date": 1, "hours": 10, "minutes": 18, "seconds": 54}, {"year": 2014, "month": 1, "date": 1, "hours": 11, "minutes": 28, "seconds": 18}], "nice": false}, "axis": null},
        "y": {"datum": 0, "type": "quantitative", "scale": {"domain": [-1.7195, 10.3846], "nice": false, "zero": false}, "axis": null},
        "y2": {"datum": 10}
      }
    },
    {
      "data": {"name": "power"},
      "mark": {"type": "line", "interpolate": "linear"},
      "encoding": {
        "x": {
          "field": "t", "type": "temporal",
          "scale": {"domain": [{"year": 2014, "month": 1, "date": 1, "hours": 10, "minutes": 18, "seconds": 54}, {"year": 2014, "month": 1, "date": 1, "hours": 11, "minutes": 28, "seconds": 18}], "nice": false},
          "axis": {
            "orient": "bottom", "offset": -76, "zindex": 1,
            "values": [
              {"year": 2014, "month": 1, "date": 1, "hours": 10, "minutes": 30},
              {"year": 2014, "month": 1, "date": 1, "hours": 10, "minutes": 40},
              {"year": 2014, "month": 1, "date": 1, "hours": 10, "minutes": 50},
              {"year": 2014, "month": 1, "date": 1, "hours": 11, "minutes": 0},
              {"year": 2014, "month": 1, "date": 1, "hours": 11, "minutes": 10},
              {"year": 2014, "month": 1, "date": 1, "hours": 11, "minutes": 20}
            ],
            "format": "%-I:%M %p", "labelFontSize": 14, "labelColor": "#333333", "labelPadding": 1,
            "tickSize": 0, "domain": false, "grid": false, "labelFlush": false,
            "title": ["\u200b\u00a0\u00a0\u00a0\u00a0\u00a0\u00a0\u00a0\u00a0\u00a0\u00a0\u00a0\u00a0Power\u00a0\u00a0\u00a0\u00a0\u00a0\u00a0\u00a0\u00a0\u00a0\u00a0\u00a0\u00a0\u00a0\u00a0\u00a0\u00a0\u00a0\u00a0\u00a0\u00a0\u00a0\u00a0\u00a0\u00a0\u00a0\u00a0\u00a0\u00a0\u00a0\u00a0\u00a0\u00a0\u00a0\u00a0\u00a0Voltage", "Real-Time Minute Data"],
            "titleFontSize": 16, "titleFontWeight": "normal", "titleColor": "#222222",
            "titleX": 544, "titleY": 24, "titleBaseline": "top", "titleAlign": "center", "titleLineHeight": 24
          }
        },
        "y": {
          "field": "v", "type": "quantitative",
          "scale": {"domain": [-1.7195, 10.3846], "nice": false, "zero": false},
          "axis": {
            "orient": "left", "offset": -77, "zindex": 1, "values": [2.5, 5, 7.5],
            "labelExpr": "format(datum.value, '.1f') + ' kW'",
            "labelFontSize": 14, "labelColor": "#333333", "labelPadding": 1,
            "tickSize": 0, "domain": false, "grid": false,
            "title": "Power", "titleFontSize": 13, "titleFontWeight": "normal", "titleColor": "#333333",
            "titleX": -51, "titleY": 233, "titleAngle": -90, "titleBaseline": "middle", "titleAlign": "center"
          }
        },
        "color": {
          "field": "s", "type": "nominal",
          "scale": {
            "domain": ["MTU 1", "HWH", "HVACup", "HVACdn", "Frig-Gar", "Frig-Kit", "KichLite", "VOLTAGE"],
            "range": ["#d21e3c", "#1f7a3c", "#f5a25a", "#5b4fae", "#78d2c4", "#5cc23f", "#eeee22", "#d63ca5"]
          },
          "legend": {
            "orient": "none", "legendX": 359, "legendY": 543,
            "values": ["HWH", "HVACup", "HVACdn", "Frig-Gar", "VOLTAGE", "Frig-Kit", "KichLite"],
            "columns": 4, "direction": "horizontal",
            "title": "Legend", "titleFontSize": 20, "titleFontWeight": "normal", "titleColor": "#9090c0",
            "titleAnchor": "middle", "titlePadding": 42,
            "padding": 8, "rowPadding": 53, "columnPadding": 66,
            "symbolType": "M-1,-1H14.5V1H-1Z",
            "symbolSize": 225, "symbolStrokeWidth": 0, "symbolOpacity": 1,
            "labelOffset": 9, "labelFontSize": 14, "labelColor": "#ffffff", "labelLimit": 200,
            "fillColor": "#111111",
            "strokeColor": "#666666", "cornerRadius": 10
          }
        },
        "strokeWidth": {
          "field": "s", "type": "ordinal",
          "scale": {"domain": ["MTU 1", "HWH", "HVACup", "HVACdn", "Frig-Gar", "Frig-Kit", "KichLite"], "range": [2.5, 2.5, 2, 2, 1.5, 3.5, 2.5]},
          "legend": null
        }
      }
    },
    {
      "data": {"name": "power"},
      "mark": {"type": "circle", "opacity": 1},
      "encoding": {
        "x": {"field": "t", "type": "temporal", "scale": {"domain": [{"year": 2014, "month": 1, "date": 1, "hours": 10, "minutes": 18, "seconds": 54}, {"year": 2014, "month": 1, "date": 1, "hours": 11, "minutes": 28, "seconds": 18}], "nice": false}, "axis": null},
        "y": {"field": "v", "type": "quantitative", "scale": {"domain": [-1.7195, 10.3846], "nice": false, "zero": false}, "axis": null},
        "color": {
          "field": "s", "type": "nominal",
          "scale": {
            "domain": ["MTU 1", "HWH", "HVACup", "HVACdn", "Frig-Gar", "Frig-Kit", "KichLite", "VOLTAGE"],
            "range": ["#d21e3c", "#1f7a3c", "#f5a25a", "#5b4fae", "#78d2c4", "#5cc23f", "#eeee22", "#d63ca5"]
          }
        },
        "size": {
          "field": "s", "type": "ordinal",
          "scale": {"domain": ["MTU 1", "HWH", "HVACup", "HVACdn", "Frig-Gar", "Frig-Kit", "KichLite"], "range": [28, 26, 18, 24, 14, 30, 26]},
          "legend": null
        }
      }
    },
    {
      "data": {"name": "volt"},
      "mark": {"type": "line", "strokeWidth": 2.5},
      "encoding": {
        "x": {"field": "t", "type": "temporal", "scale": {"domain": [{"year": 2014, "month": 1, "date": 1, "hours": 10, "minutes": 18, "seconds": 54}, {"year": 2014, "month": 1, "date": 1, "hours": 11, "minutes": 28, "seconds": 18}], "nice": false}, "axis": null},
        "y": {
          "field": "v", "type": "quantitative",
          "scale": {"domain": [93.122, 141.538], "nice": false, "zero": false},
          "axis": {
            "orient": "right", "offset": -65, "zindex": 1, "values": [110, 120, 130],
            "labelExpr": "datum.value + ' V'",
            "labelFontSize": 14, "labelColor": "#333333", "labelPadding": -2,
            "tickSize": 0, "domain": false, "grid": false,
            "title": "Voltage", "titleFontSize": 13, "titleFontWeight": "normal", "titleColor": "#333333",
            "titleX": 38, "titleY": 235, "titleAngle": -90, "titleBaseline": "middle", "titleAlign": "center"
          }
        },
        "color": {
          "field": "s", "type": "nominal",
          "scale": {
            "domain": ["MTU 1", "HWH", "HVACup", "HVACdn", "Frig-Gar", "Frig-Kit", "KichLite", "VOLTAGE"],
            "range": ["#d21e3c", "#1f7a3c", "#f5a25a", "#5b4fae", "#78d2c4", "#5cc23f", "#eeee22", "#d63ca5"]
          }
        }
      }
    },
    {
      "data": {"name": "volt"},
      "mark": {"type": "circle", "size": 26, "opacity": 1},
      "encoding": {
        "x": {"field": "t", "type": "temporal", "scale": {"domain": [{"year": 2014, "month": 1, "date": 1, "hours": 10, "minutes": 18, "seconds": 54}, {"year": 2014, "month": 1, "date": 1, "hours": 11, "minutes": 28, "seconds": 18}], "nice": false}, "axis": null},
        "y": {"field": "v", "type": "quantitative", "scale": {"domain": [93.122, 141.538], "nice": false, "zero": false}, "axis": null},
        "color": {
          "field": "s", "type": "nominal",
          "scale": {
            "domain": ["MTU 1", "HWH", "HVACup", "HVACdn", "Frig-Gar", "Frig-Kit", "KichLite", "VOLTAGE"],
            "range": ["#d21e3c", "#1f7a3c", "#f5a25a", "#5b4fae", "#78d2c4", "#5cc23f", "#eeee22", "#d63ca5"]
          }
        }
      }
    },
    {
      "data": {"name": "one"},
      "mark": {"type": "rect", "color": "#ffffff", "opacity": 0.72},
      "encoding": {
        "x": {"datum": {"year": 2014, "month": 1, "date": 1, "hours": 10, "minutes": 41, "seconds": 1}, "type": "temporal", "scale": {"domain": [{"year": 2014, "month": 1, "date": 1, "hours": 10, "minutes": 18, "seconds": 54}, {"year": 2014, "month": 1, "date": 1, "hours": 11, "minutes": 28, "seconds": 18}], "nice": false}, "axis": null},
        "x2": {"datum": {"year": 2014, "month": 1, "date": 1, "hours": 10, "minutes": 52, "seconds": 17}},
        "y": {"datum": 6.38, "type": "quantitative", "scale": {"domain": [-1.7195, 10.3846], "nice": false, "zero": false}, "axis": null},
        "y2": {"datum": 10.12}
      }
    },
    {
      "data": {"name": "cursor"},
      "mark": {"type": "rule", "color": "#cc1f1f", "strokeWidth": 2},
      "encoding": {
        "x": {"field": "t", "type": "temporal", "scale": {"domain": [{"year": 2014, "month": 1, "date": 1, "hours": 10, "minutes": 18, "seconds": 54}, {"year": 2014, "month": 1, "date": 1, "hours": 11, "minutes": 28, "seconds": 18}], "nice": false}, "axis": null},
        "y": {"datum": 0, "type": "quantitative", "scale": {"domain": [-1.7195, 10.3846], "nice": false, "zero": false}, "axis": null},
        "y2": {"datum": 10.1}
      }
    },
    {
      "data": {"name": "cursor"},
      "mark": {"type": "text", "align": "right", "baseline": "top", "dx": -7, "fontSize": 14, "lineHeight": 17.3, "color": "#333333"},
      "encoding": {
        "x": {"field": "t", "type": "temporal", "scale": {"domain": [{"year": 2014, "month": 1, "date": 1, "hours": 10, "minutes": 18, "seconds": 54}, {"year": 2014, "month": 1, "date": 1, "hours": 11, "minutes": 28, "seconds": 18}], "nice": false}, "axis": null},
        "y": {"datum": 10.05, "type": "quantitative", "scale": {"domain": [-1.7195, 10.3846], "nice": false, "zero": false}, "axis": null},
        "text": {"field": "lines", "type": "nominal"}
      }
    },
    {
      "data": {"name": "hist"},
      "mark": {"type": "point", "opacity": 0},
      "encoding": {
        "shape": {
          "field": "setting", "type": "nominal", "sort": null,
          "scale": {"range": ["square", "square"]},
          "legend": {
            "orient": "none", "legendX": 13, "legendY": 543,
            "title": "History Report Selection", "titleFontSize": 20, "titleFontWeight": "normal", "titleColor": "#9090c0",
            "titleAnchor": "middle", "titlePadding": 3, "titleLimit": 400,
            "padding": 6, "rowPadding": 10,
            "symbolSize": 2500, "symbolOpacity": 0, "symbolStrokeWidth": 0,
            "labelOffset": -50, "labelFontSize": 14, "labelColor": "#cfcfcf", "labelLimit": 500,
            "fillColor": "#111111",
            "strokeColor": "#666666", "cornerRadius": 10
          }
        }
      }
    }
  ]
}
